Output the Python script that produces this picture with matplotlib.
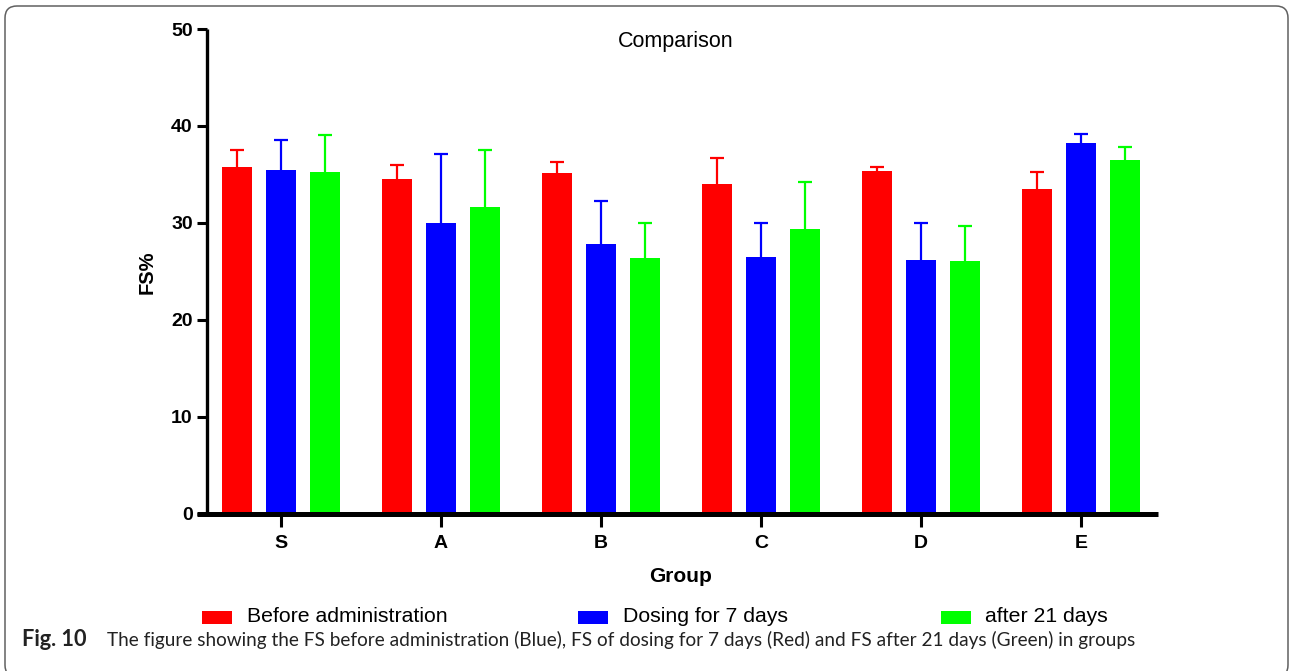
import matplotlib
matplotlib.use("Agg")
import matplotlib.pyplot as plt
import numpy as np
from matplotlib.patches import Rectangle, FancyBboxPatch
from matplotlib.lines import Line2D
from matplotlib.transforms import IdentityTransform
from matplotlib import font_manager

# ---------------- data ----------------
groups = ['S', 'A', 'B', 'C', 'D', 'E']
series_names = ['Before administration', 'Dosing for 7 days', 'after 21 days']
before = [35.8, 34.5, 35.1, 34.0, 35.3, 33.5]
before_err = [1.7, 1.5, 1.2, 2.7, 0.5, 1.7]
dosing7 = [35.5, 30.0, 27.8, 26.5, 26.2, 38.2]
dosing7_err = [3.0, 7.1, 4.4, 3.5, 3.8, 1.0]
after21 = [35.2, 31.6, 26.4, 29.4, 26.1, 36.5]
after21_err = [3.9, 5.9, 3.6, 4.8, 3.6, 1.3]
yticks = [0, 10, 20, 30, 40, 50]
caption_bold = 'Fig. 10'
caption_text = ('The figure showing the FS before administration (Blue), FS of dosing for 7 days (Red) '
                'and FS after 21 days (Green) in groups')

colors = ['#FF0000', '#0000FF', '#00FF00']

W, H = 1290, 671
DPI = 100
fig = plt.figure(figsize=(W / DPI, H / DPI), dpi=DPI)
fig.patch.set_facecolor('white')
FONT = 'Liberation Sans'

installed = {f.name for f in font_manager.fontManager.ttflist}
CAP_FONT = 'Liberation Sans Narrow' if 'Liberation Sans Narrow' in installed else 'Lato'

def fx(px):
    return px / W

def fy(py):
    return 1 - py / H

ax = fig.add_axes([fx(207), fy(513.5), fx(1158) - fx(207), fy(29) - fy(513.5)])

x = np.arange(len(groups))
bw = 0.1875
offs = [-0.275, 0.0, 0.275]
vals = [before, dosing7, after21]
errs = [before_err, dosing7_err, after21_err]
for v, e, o, c in zip(vals, errs, offs, colors):
    ax.bar(x + o, v, width=bw, color=c, edgecolor='none', zorder=2)
    eb = ax.errorbar(x + o, v, yerr=[np.zeros(len(v)), e], fmt='none', ecolor=c,
                     elinewidth=1.6, capsize=5, capthick=1.6, zorder=3)
    caps = eb[1]
    if len(caps) == 2:
        caps[0].remove()

ax.set_xlim(-0.4625, 5.481)
ax.set_ylim(0, 50)
ax.set_yticks(yticks)
ax.set_xticks(x)
ax.set_xticklabels(groups)

for s in ['top', 'right', 'bottom']:
    ax.spines[s].set_visible(False)
ax.spines['left'].set_linewidth(2.4)
ax.spines['left'].set_capstyle('butt')

# x-axis line (extends slightly left of the y-axis)
ax.add_line(Line2D([-10 / 951, 1.0], [0, 0], transform=ax.transAxes, color='black',
                   linewidth=3.6, solid_capstyle='butt', clip_on=False, zorder=5))

ax.tick_params(axis='y', length=7.2, width=2.2, pad=3, labelsize=14)
ax.tick_params(axis='x', length=9.4, width=2.2, pad=6, labelsize=14)
for lab in ax.get_xticklabels() + ax.get_yticklabels():
    lab.set_fontfamily(FONT)
    lab.set_fontweight('bold')

fig.text(fx(676), fy(41), 'Comparison', ha='center', va='center', fontsize=15.5, family=FONT)
fig.text(fx(147), fy(272), 'FS%', ha='center', va='center', rotation=90,
         fontsize=14.5, fontweight='bold', family=FONT)
fig.text(fx(681), fy(576), 'Group', ha='center', va='center', fontsize=15,
         fontweight='bold', family=FONT)

# legend
leg_patch_x = [202, 578, 941]
leg_text_x = [247, 623, 985]
for px, tx, c, name in zip(leg_patch_x, leg_text_x, colors, series_names):
    fig.patches.append(Rectangle((fx(px), fy(624)), fx(30), 13 / H, transform=fig.transFigure,
                                 facecolor=c, edgecolor='none'))
    fig.text(fx(tx), fy(617), name, ha='left', va='center', fontsize=15.3, family=FONT)

# caption
r = fig.canvas.get_renderer()
ct = fig.text(fx(107), fy(646), caption_text, ha='left', va='baseline', fontsize=12,
              family=CAP_FONT, color='#222222')
w = ct.get_window_extent(r).width
cap_fs = 12 * 1023 / w
ct.set_fontsize(cap_fs)
cb = fig.text(fx(22), fy(646), caption_bold, ha='left', va='baseline', fontsize=12,
              fontweight='bold', family=CAP_FONT, color='#222222')
w = cb.get_window_extent(r).width
cb.set_fontsize(min(12 * 75 / w, cap_fs * 1.15))

# frame
frame = FancyBboxPatch((5, -6), 1283, 671 - 6 + 6, boxstyle='round,pad=0,rounding_size=12',
                       transform=IdentityTransform(), facecolor='none', edgecolor='#606060',
                       linewidth=1.1)
fig.patches.append(frame)

fig.savefig('out.png', dpi=DPI)
